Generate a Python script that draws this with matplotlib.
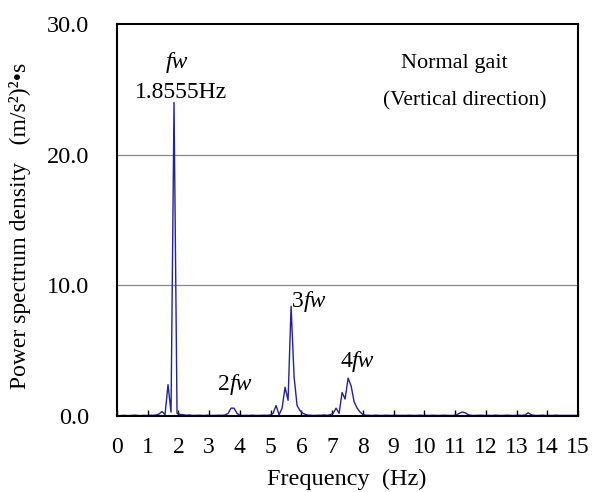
import numpy as np
import matplotlib
matplotlib.use("Agg")
import matplotlib.pyplot as plt

plt.rcParams['font.family'] = ['Liberation Serif', 'DejaVu Serif']

# frequency resolution 100 Hz / 1024 points
df = 100 / 1024
psd = [
    0.02, 0.03, 0.05, 0.04, 0.03, 0.05, 0.06, 0.04, 0.03, 0.05, 0.04, 0.06, 0.05,   # 0 - 1.17
    0.08, 0.15, 0.35, 0.10, 2.40, 0.30, 24.0, 0.20, 0.12,                           # 1.27 - 2.05
    0.10, 0.06, 0.08, 0.05, 0.04, 0.06, 0.05, 0.04, 0.06, 0.05, 0.04, 0.05, 0.06, 0.05, 0.08,  # 2.15 - 3.52
    0.20, 0.60, 0.60, 0.20, 0.05,                                                   # 3.61 - 4.00
    0.04, 0.05, 0.04, 0.06, 0.05, 0.04, 0.05, 0.06, 0.05, 0.08,                     # 4.10 - 4.98
    0.20, 0.80, 0.10, 0.60, 2.20, 1.20, 8.40, 3.00, 0.80, 0.40, 0.20, 0.10,         # 5.08 - 6.15
    0.06, 0.05, 0.04, 0.06, 0.05, 0.08, 0.05, 0.10,                                 # 6.25 - 6.93
    0.20, 0.60, 0.20, 1.80, 1.30, 2.90, 2.30, 1.10, 0.60, 0.30, 0.10,               # 7.03 - 8.01
    0.06, 0.05, 0.04, 0.06, 0.05, 0.04, 0.05, 0.06, 0.04, 0.05, 0.06, 0.04,         # 8.11 - 9.18
    0.05, 0.04, 0.06, 0.05, 0.04, 0.05, 0.06, 0.04, 0.05, 0.04, 0.06, 0.05,         # 9.28 - 10.35
    0.04, 0.05, 0.06, 0.05, 0.04, 0.05, 0.08, 0.20, 0.30, 0.25, 0.10, 0.05,         # 10.45 - 11.52
    0.04, 0.05, 0.06, 0.05, 0.04, 0.05, 0.04, 0.06, 0.05, 0.04, 0.05, 0.06,         # 11.62 - 12.70
    0.05, 0.04, 0.05, 0.06, 0.05, 0.08, 0.25, 0.10, 0.05, 0.04, 0.05, 0.06,         # 12.79 - 13.87
    0.04, 0.05, 0.04, 0.06, 0.05, 0.04, 0.05, 0.04, 0.05, 0.04, 0.05, 0.04,         # 13.96 - 15.04
]
freq = np.arange(len(psd)) * df

x_ticks = list(range(0, 16))
y_ticks = [0, 10, 20, 30]
y_labels = ['0.0', '10.0', '20.0', '30.0']

fig = plt.figure(figsize=(5.92, 4.92), dpi=100)
ax = fig.add_axes([117 / 592, 1 - 416 / 492, 461 / 592, 392 / 492])

ax.plot(freq, psd, color='#22229a', lw=1.0)

ax.set_xlim(0, 15)
ax.set_ylim(0, 30)
ax.set_xticks(x_ticks)
ax.set_xticklabels([str(t) for t in x_ticks], fontsize=17)
ax.set_yticks(y_ticks)
ax.set_yticklabels(y_labels, fontsize=17.5)
ax.tick_params(axis='x', direction='in', length=4, width=1, pad=15)
ax.tick_params(axis='y', length=0, pad=20)
for y in [10, 20]:
    ax.axhline(y, color='#888888', lw=0.9, zorder=0)
for s in ax.spines.values():
    s.set_linewidth(1.5)

fig.text(347 / 592, 1 - 485 / 492, 'Frequency  (Hz)', fontsize=17.5,
         ha='center', va='baseline')
fig.text(20 / 592, 1 - 226 / 492, 'Power spectrum density   (m/s²)²•s',
         fontsize=17, rotation=90, ha='center', va='center')

ax.text(1.95, 26.6, 'fw', style='italic', fontsize=17, ha='center')
ax.text(2.08, 24.3, '1.8555Hz', fontsize=17, ha='center')
ax.text(3.68, 2.0, '2', fontsize=17, ha='right')
ax.text(3.68, 2.0, 'fw', style='italic', fontsize=17, ha='left')
ax.text(6.08, 8.34, '3', fontsize=17, ha='right')
ax.text(6.08, 8.34, 'fw', style='italic', fontsize=17, ha='left')
ax.text(7.65, 3.75, '4', fontsize=17, ha='right')
ax.text(7.65, 3.75, 'fw', style='italic', fontsize=17, ha='left')
ax.text(10.97, 26.6, 'Normal gait', fontsize=16, ha='center')
ax.text(11.32, 23.8, '(Vertical direction)', fontsize=15.5, ha='center')

fig.savefig('out.png', dpi=100)
